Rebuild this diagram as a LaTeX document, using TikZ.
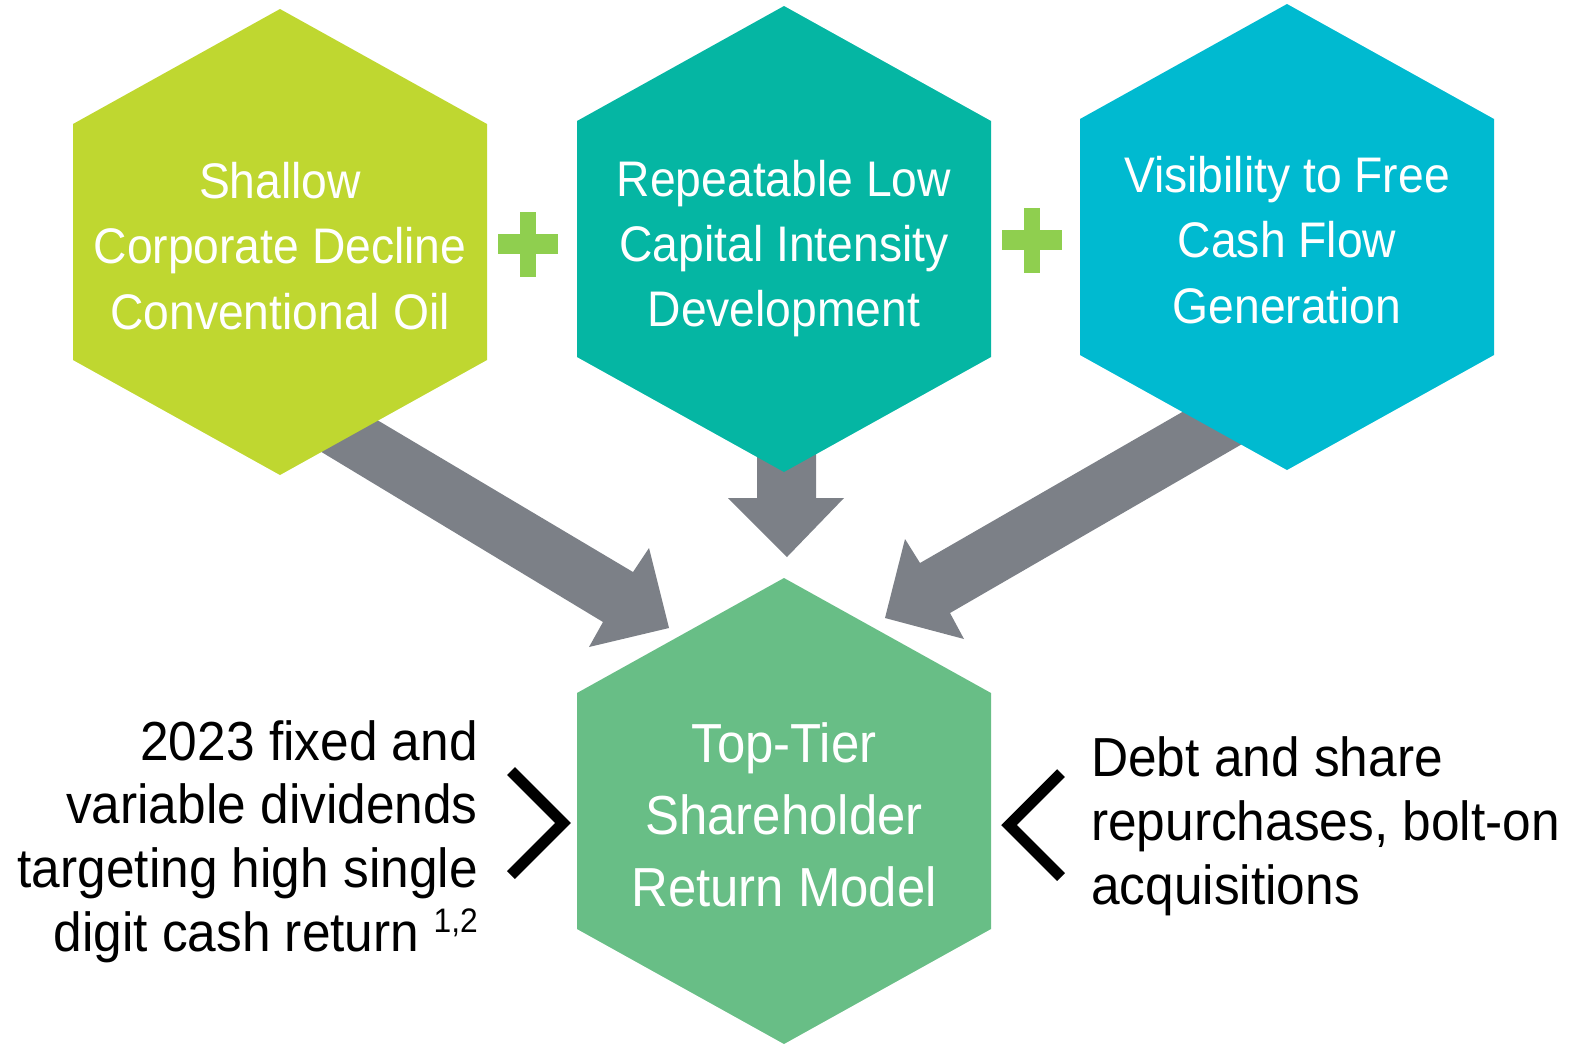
\documentclass[tikz,border=0pt]{standalone}
\usepackage{fontspec}
\newfontfamily\lab[FakeStretch=0.925]{Liberation Sans}
\newfontfamily\side[FakeStretch=0.935]{Liberation Sans}
\definecolor{lime}{HTML}{BFD730}
\definecolor{teal}{HTML}{05B6A3}
\definecolor{cyanb}{HTML}{00BAD0}
\definecolor{mint}{HTML}{68BE86}
\definecolor{plusgreen}{HTML}{8FCF4F}
\definecolor{arrowgray}{HTML}{7C8087}
\tikzset{
  hexfill/.style={fill=#1, draw=none},
  blockarrow/.style={fill=arrowgray, draw=none},
  hextext/.style={text=white, anchor=base, inner sep=0pt, font=\lab\fontsize{50}{60}\selectfont},
  bigtext/.style={text=white, anchor=base, inner sep=0pt, font=\lab\fontsize{55}{66}\selectfont},
  sidetext/.style={text=black, inner sep=0pt, font=\side\fontsize{55}{66}\selectfont},
  chevron/.style={draw=black, line width=11pt, miter limit=10},
  plusbar/.style={fill=plusgreen, draw=none}
}
% pointy-top hexagon centred at (#1,#2)
\newcommand{\hexat}[3]{%
  \fill[hexfill=#3] (#1,#2-233) -- (#1+207,#2-118) -- (#1+207,#2+118) -- (#1,#2+233)
    -- (#1-207,#2+118) -- (#1-207,#2-118) -- cycle;}
% plus sign centred at (#1,#2)
\newcommand{\plusat}[2]{%
  \fill[plusbar] (#1-30,#2-10) rectangle (#1+30,#2+10);
  \fill[plusbar] (#1-8,#2-32) rectangle (#1+8,#2+33);}
\begin{document}
\begin{tikzpicture}[x=1pt,y=-1pt]
\useasboundingbox (0,0) rectangle (1571,1045);

% block arrows (drawn first, hexagons cover their tails)
\fill[blockarrow] (330,392) -- (633,572) -- (649,548) -- (669,628) -- (589,647) -- (603,622) -- (290,433) -- cycle;
\fill[blockarrow] (757,430) -- (757,498) -- (728,498) -- (787,557) -- (844,498) -- (816,498) -- (816,430) -- cycle;
\fill[blockarrow] (1217,392) -- (920,563) -- (905,539) -- (885,618) -- (964,639) -- (950,613) -- (1275,425) -- cycle;

% hexagons
\hexat{280}{242}{lime}
\hexat{784}{239}{teal}
\hexat{1287}{237}{cyanb}
\hexat{784}{811}{mint}

% plus signs
\plusat{528}{244}
\plusat{1032}{240}

% hexagon labels
\foreach \s [count=\i] in {Shallow, Corporate Decline, Conventional Oil}
  \node[hextext, name=a\i] at (280,{198+65.5*(\i-1)}) {\s};
\foreach \s [count=\i] in {Repeatable Low, Capital Intensity, Development}
  \node[hextext, name=b\i] at (784,{196+65*(\i-1)}) {\s};
\foreach \s [count=\i] in {Visibility to Free, Cash Flow, Generation}
  \node[hextext, name=c\i] at (1287,{192+65.5*(\i-1)}) {\s};
\foreach \s [count=\i] in {Top-Tier, Shareholder, Return Model}
  \node[bigtext, name=d\i] at (784,{762+72*(\i-1)}) {\s};

% side notes
\foreach \s [count=\i] in {2023 fixed and, variable dividends, targeting high single}
  \node[sidetext, anchor=base east, name=l\i] at (478,{760+63.7*(\i-1)}) {\s};
\node[sidetext, anchor=base east, name=l4] at (478,951)
  {digit cash return {\fontsize{34}{34}\selectfont\raisebox{19pt}{1,2}}};
\foreach \s [count=\i] in {Debt and share, {repurchases, bolt-on}, acquisitions}
  \node[sidetext, anchor=base west, name=r\i] at (1091,{776+64*(\i-1)}) {\s};

% chevrons
\draw[chevron] (511,771) -- (563,823) -- (511,875);
\draw[chevron] (1061,773) -- (1009,825) -- (1061,877);
\end{tikzpicture}
\end{document}
